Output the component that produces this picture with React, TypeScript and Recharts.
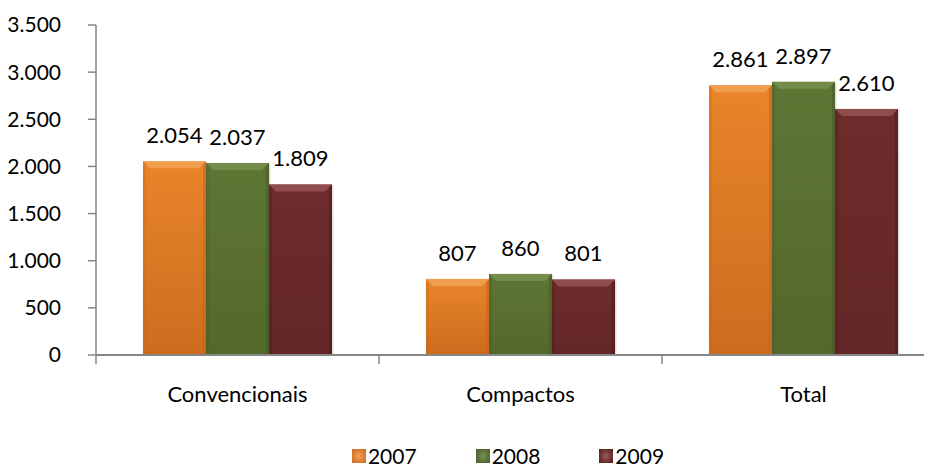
import React from 'react';
import { BarChart, Bar, XAxis, YAxis, LabelList, Legend } from 'recharts';

const categories = ['Convencionais', 'Compactos', 'Total'];
const series2007 = [2054, 807, 2861];
const series2008 = [2037, 860, 2897];
const series2009 = [1809, 801, 2610];
const yTicks = [0, 500, 1000, 1500, 2000, 2500, 3000, 3500];
const seriesNames = ['2007', '2008', '2009'];

const data = categories.map((c, i) => ({
  name: c,
  y2007: series2007[i],
  y2008: series2008[i],
  y2009: series2009[i],
}));

const FONT = 'Lato, "Open Sans", sans-serif';

const fmt = (v: any) => String(v).replace(/\B(?=(\d{3})+(?!\d))/g, '.');

const palette = [
  { id: 'g2007', light: '#E9852A', dark: '#CC6C1E', top: '#F2A457', edge: '#C8661A' },
  { id: 'g2008', light: '#5E7634', dark: '#53692C', top: '#7A9150', edge: '#47592A' },
  { id: 'g2009', light: '#6E2C2C', dark: '#642626', top: '#9A5656', edge: '#4E1C1C' },
];

const makeShape = (p: typeof palette[number]) => (props: any) => {
  const { x, y, width, height } = props;
  if (!height || height <= 0) return null;
  const b = Math.min(7, width / 8, height / 3);
  return (
    <g>
      <rect x={x + 1.5} y={y + 1} width={width} height={height} fill="#C8C8C8" opacity={0.6} />
      <rect x={x} y={y} width={width} height={height} fill={`url(#${p.id})`} />
      <polygon
        points={`${x},${y} ${x + width},${y} ${x + width - b},${y + b} ${x + b},${y + b}`}
        fill={p.top}
        opacity={0.8}
      />
      <polygon
        points={`${x + width},${y} ${x + width - 3},${y + 3} ${x + width - 3},${y + height} ${x + width},${y + height}`}
        fill={p.edge}
        opacity={0.6}
      />
      <polygon
        points={`${x},${y} ${x + 3},${y + 3} ${x + 3},${y + height} ${x},${y + height}`}
        fill={p.edge}
        opacity={0.35}
      />
    </g>
  );
};

const XTick = (props: any) => {
  const { x, y, payload, width, visibleTicksCount, index } = props;
  const half = width && visibleTicksCount ? width / visibleTicksCount / 2 : 141.5;
  const axisY = y - 30;
  return (
    <g>
      {index === 0 && (
        <line x1={x - half} x2={x - half} y1={axisY} y2={axisY + 8} stroke="#868686" strokeWidth={1.5} />
      )}
      <line x1={x + half} x2={x + half} y1={axisY} y2={axisY + 8} stroke="#868686" strokeWidth={1.5} />
      <text x={x} y={y} dy="0.71em" textAnchor="middle" fontFamily={FONT} fontSize={22} fill="#000">
        {payload.value}
      </text>
    </g>
  );
};

const LegendContent = () => (
  <div style={{ display: 'flex', justifyContent: 'center', fontFamily: FONT, fontSize: 21, color: '#000' }}>
    {seriesNames.map((n, i) => (
      <div key={n} style={{ display: 'flex', alignItems: 'center', marginRight: i < 2 ? 59 : 0 }}>
        <svg width={14} height={14} style={{ marginRight: 2 }}>
          <rect x={0} y={0} width={14} height={14} fill={`url(#${palette[i].id}L)`} />
        </svg>
        <span style={{ lineHeight: '22px' }}>{n}</span>
      </div>
    ))}
  </div>
);

export default function App() {
  return (
    <div style={{ width: 924, height: 460, overflow: 'hidden', position: 'relative' }}>
      <svg width={0} height={0} style={{ position: 'absolute' }}>
        <defs>
          {palette.map((p) => (
            <radialGradient key={p.id + 'L'} id={p.id + 'L'} cx="50%" cy="50%" r="70%">
              <stop offset="0%" stopColor={p.top} />
              <stop offset="100%" stopColor={p.edge} />
            </radialGradient>
          ))}
        </defs>
      </svg>
      <BarChart
        width={950}
        height={460}
        data={data}
        margin={{ top: 17, right: 13, left: 0, bottom: 0 }}
        barCategoryGap="16.6%"
        barGap={0}
      >
        <defs>
          {palette.map((p) => (
            <linearGradient key={p.id} id={p.id} x1="0" y1="0" x2="0" y2="1">
              <stop offset="0%" stopColor={p.light} />
              <stop offset="100%" stopColor={p.dark} />
            </linearGradient>
          ))}
        </defs>
        <YAxis
          width={88}
          domain={[0, 3500]}
          ticks={yTicks}
          interval={0}
          tickFormatter={fmt}
          axisLine={{ stroke: '#868686', strokeWidth: 1.5 }}
          tickLine={{ stroke: '#868686', strokeWidth: 1.5 }}
          tickSize={8}
          tickMargin={27}
          tick={{ fontFamily: FONT, fontSize: 21, fill: '#000' }}
        />
        <XAxis
          dataKey="name"
          height={91}
          interval={0}
          axisLine={{ stroke: '#868686', strokeWidth: 2 }}
          tickLine={false}
          tickSize={0}
          tickMargin={31}
          tick={<XTick />}
        />
        <Legend
          content={<LegendContent />}
          wrapperStyle={{ position: 'absolute', left: 110, width: 780, top: 437 }}
        />
        {['y2007', 'y2008', 'y2009'].map((k, i) => (
          <Bar
            key={k}
            dataKey={k}
            name={seriesNames[i]}
            isAnimationActive={false}
            shape={makeShape(palette[i])}
          >
            <LabelList
              dataKey={k}
              position="top"
              offset={18}
              formatter={fmt}
              style={{ fontFamily: FONT, fontSize: 22, fill: '#000' }}
            />
          </Bar>
        ))}
      </BarChart>
    </div>
  );
}
